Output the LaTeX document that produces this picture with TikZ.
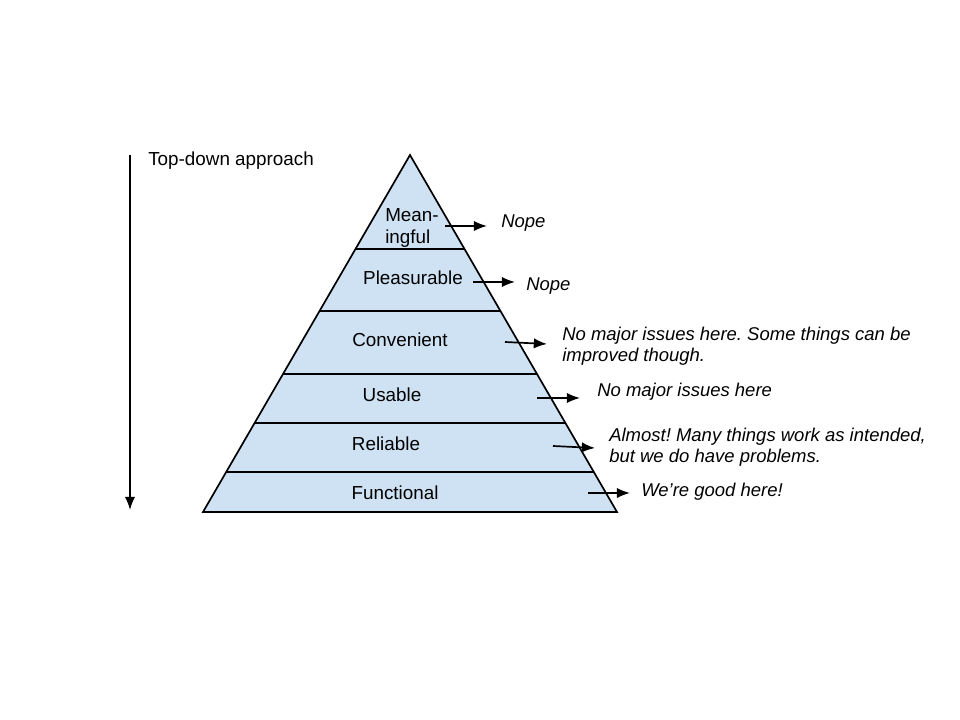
\documentclass[tikz,border=0pt]{standalone}
\usepackage{fontspec}
\setmainfont{Liberation Sans}
\usetikzlibrary{arrows.meta}
\definecolor{layerblue}{HTML}{CFE2F3}
\frenchspacing

\begin{document}
\begin{tikzpicture}[x=0.025cm,y=-0.025cm,
    every node/.style={font=\fontsize{13.4}{15}\selectfont, inner sep=0pt},
    note/.style={anchor=west, align=left, font=\fontsize{13.15}{15.2}\selectfont\itshape},
    pointer/.style={-{Latex[length=3.3mm,width=2.6mm]}, line width=1.2pt}]
  \useasboundingbox (0,0) rectangle (960,720);
  % pyramid
  \coordinate (apex) at (410,155);
  \coordinate (baseL) at (203,512);
  \coordinate (baseR) at (617,512);
  \fill[layerblue] (apex) -- (baseL) -- (baseR) -- cycle;
  \foreach \y in {249,311,374,423,472}
    \draw[line width=1.2pt] ({410-0.5798*(\y-155)},\y) -- ({410+0.5798*(\y-155)},\y);
  \draw[line width=1.2pt, line join=miter] (apex) -- (baseL) -- (baseR) -- cycle;
  % layer names
  \node[align=left] (meaning) at (412,228) {Mean-\\ingful};
  \node (pleasure) at (413,278) {Pleasurable};
  \node (convenient) at (400,340) {Convenient};
  \node (usable) at (392,395) {Usable};
  \node (reliable) at (386,444) {Reliable};
  \node (functional) at (395,493) {Functional};
  % top-down arrow
  \coordinate (down-from) at (130,155);
  \coordinate (down-to) at (130,510);
  \draw[pointer] (down-from) -- (down-to);
  \node[anchor=west] (approach) at (148,161) {Top-down approach};
  % comments
  \node[note] (nope1) at (501,223) {Nope};
  \node[note] (nope2) at (526,286) {Nope};
  \node[note] (conv-note) at (562,346) {No major issues here. Some things can be\\improved though.};
  \node[note] (usab-note) at (597,392) {No major issues here};
  \node[note] (reli-note) at (609,447) {Almost! Many things work as intended,\\but we do have problems.};
  \node[note] (func-note) at (641,492) {We’re good here!};
  % pointers
  \coordinate (p1-from) at (445,226); \coordinate (p1-to) at (487,226);
  \coordinate (p2-from) at (473,282); \coordinate (p2-to) at (515,282);
  \coordinate (p3-from) at (505,342); \coordinate (p3-to) at (547,344);
  \coordinate (p4-from) at (537,398); \coordinate (p4-to) at (580,398);
  \coordinate (p5-from) at (553,446); \coordinate (p5-to) at (595,448);
  \coordinate (p6-from) at (588,493); \coordinate (p6-to) at (630,493);
  \draw[pointer] (p1-from) -- (p1-to);
  \draw[pointer] (p2-from) -- (p2-to);
  \draw[pointer] (p3-from) -- (p3-to);
  \draw[pointer] (p4-from) -- (p4-to);
  \draw[pointer] (p5-from) -- (p5-to);
  \draw[pointer] (p6-from) -- (p6-to);
\end{tikzpicture}
\end{document}
